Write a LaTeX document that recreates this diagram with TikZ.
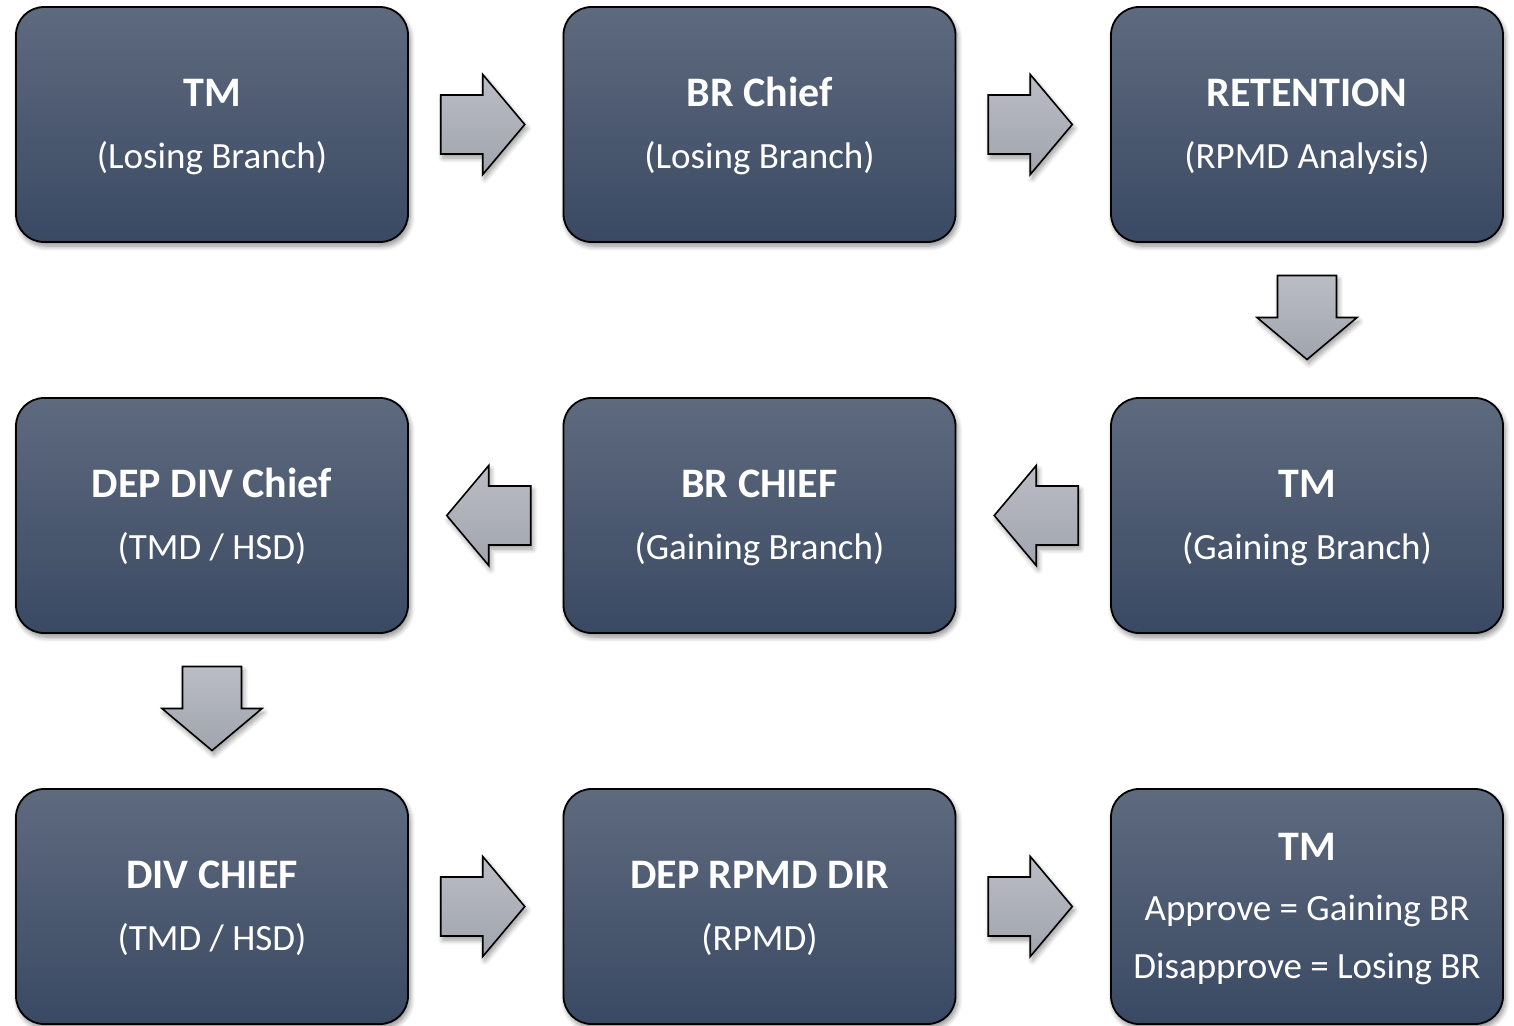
\documentclass[tikz,border=0pt]{standalone}
\usepackage{fontspec}
\setmainfont{Carlito}
\usetikzlibrary{calc,shadows.blur}

\definecolor{boxtop}{RGB}{94,106,126}
\definecolor{boxbot}{RGB}{58,73,99}
\definecolor{arrtop}{RGB}{186,189,196}
\definecolor{arrbot}{RGB}{160,164,172}

\tikzset{
  stage/.style={draw=black, line width=1.8pt, rounded corners=28pt,
    minimum width=392pt, minimum height=235pt, inner sep=0pt,
    top color=boxtop, bottom color=boxbot,
    blur shadow={shadow xshift=2pt, shadow yshift=-4pt, shadow blur radius=5pt,
      shadow opacity=45, shadow blur steps=8}},
  ttl/.style={anchor=base, text=white, font=\fontsize{42}{50}\selectfont\bfseries, inner sep=0pt},
  sub/.style={anchor=base, text=white, font=\fontsize{37}{44}\selectfont, inner sep=0pt},
  blockarrow/.style={draw=black, line width=1.6pt, line join=miter,
    top color=arrtop, bottom color=arrbot,
    blur shadow={shadow xshift=2pt, shadow yshift=-4pt, shadow blur radius=5pt,
      shadow opacity=40, shadow blur steps=8}},
  pics/rarrow/.style={code={
    \path[blockarrow] (-42,-29.5) -- (0,-29.5) -- (0,-50) -- (42,0) -- (0,50) -- (0,29.5) -- (-42,29.5) -- cycle;}},
  pics/larrow/.style={code={
    \path[blockarrow] (42,-29.5) -- (0,-29.5) -- (0,-50) -- (-42,0) -- (0,50) -- (0,29.5) -- (42,29.5) -- cycle;}},
  pics/darrow/.style={code={
    \path[blockarrow] (-29.5,-42) -- (29.5,-42) -- (29.5,0) -- (50,0) -- (0,42) -- (-50,0) -- (-29.5,0) -- cycle;}},
}

\begin{document}
\begin{tikzpicture}[x=1pt, y=-1pt]
\useasboundingbox (0,0) rectangle (1514,1025);

% stage boxes
\node[stage] (tmlose)   at (212,124.5)    {};
\node[stage] (brlose)   at (759.5,124.5)  {};
\node[stage] (ret)      at (1307,124.5)   {};
\node[stage] (depdiv)   at (212,515.5)    {};
\node[stage] (brgain)   at (759.5,515.5)  {};
\node[stage] (tmgain)   at (1307,515.5)   {};
\node[stage] (divchief) at (212,906.5)    {};
\node[stage] (rpmd)     at (759.5,906.5)  {};
\node[stage] (tmfinal)  at (1307,906.5)   {};

% two-line captions
\foreach \b/\t/\s in {tmlose/TM/(Losing Branch), brlose/BR Chief/(Losing Branch),
    ret/RETENTION/(RPMD Analysis), depdiv/DEP DIV Chief/{(TMD / HSD)},
    brgain/BR CHIEF/(Gaining Branch), tmgain/TM/(Gaining Branch),
    divchief/DIV CHIEF/{(TMD / HSD)}, rpmd/DEP RPMD DIR/(RPMD)} {
  \node[ttl] (\b-t) at ($(\b.center)+(0,-18.5)$) {\t};
  \node[sub] (\b-s) at ($(\b.center)+(0,43.5)$) {\s};
}

% final decision box
\node[ttl] (tmfinal-t) at ($(tmfinal.center)+(0,-46.5)$) {TM};
\node[sub] (tmfinal-a) at ($(tmfinal.center)+(0,13.5)$) {Approve = Gaining BR};
\node[sub] (tmfinal-d) at ($(tmfinal.center)+(0,71.5)$) {Disapprove = Losing BR};

% block arrows between stages
\pic at ($(tmlose.east)!0.5!(brlose.west)+(-3,0)$) {rarrow};
\pic at ($(brlose.east)!0.5!(ret.west)+(-3,0)$) {rarrow};
\pic at ($(ret.south)!0.5!(tmgain.north)+(0,-2.5)$) {darrow};
\pic at ($(tmgain.west)!0.5!(brgain.east)+(3,0)$) {larrow};
\pic at ($(brgain.west)!0.5!(depdiv.east)+(3,0)$) {larrow};
\pic at ($(depdiv.south)!0.5!(divchief.north)+(0,-2.5)$) {darrow};
\pic at ($(divchief.east)!0.5!(rpmd.west)+(-3,0)$) {rarrow};
\pic at ($(rpmd.east)!0.5!(tmfinal.west)+(-3,0)$) {rarrow};
\end{tikzpicture}
\end{document}
